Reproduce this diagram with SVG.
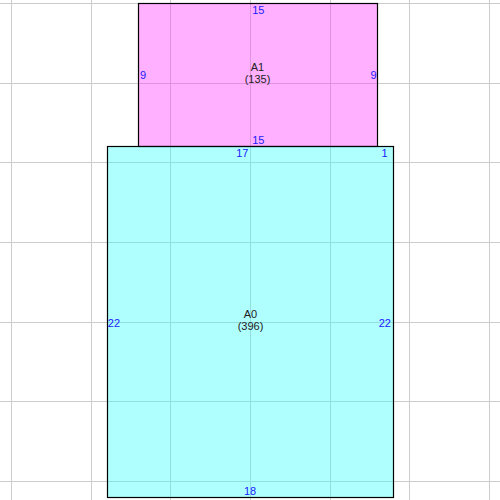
<svg xmlns="http://www.w3.org/2000/svg" width="500" height="500" viewBox="0 0 500 500">
<style>
.g{stroke:#cccccc;stroke-width:1;fill:none}
.r{stroke:#000;stroke-width:1.2;fill-opacity:0.4}
.e{font-family:"Liberation Sans",Arial,sans-serif;font-size:11px;fill:#1a1aff}
.n{font-family:"Liberation Sans",Arial,sans-serif;font-size:11px;fill:#222;text-anchor:middle}
</style>
<rect width="500" height="500" fill="#fff"/>
<g id="grid" class="g">
<path d="M11.5 0V500M91.5 0V500M170.5 0V500M250.5 0V500M330.5 0V500M409.5 0V500M489.5 0V500"/>
<path d="M0 3.5H500M0 83.5H500M0 162.5H500M0 242.5H500M0 322.5H500M0 401.5H500M0 481.5H500"/>
</g>
<g id="A1">
<rect class="r" x="138.5" y="3.5" width="239" height="143" fill="#ff3aff"/>
<text class="n" x="257.5" y="71">A1</text>
<text class="n" x="257.5" y="83">(135)</text>
<text class="e" x="258.3" y="14" text-anchor="middle">15</text>
<text class="e" x="258.3" y="143.5" text-anchor="middle">15</text>
<text class="e" x="140" y="79">9</text>
<text class="e" x="376.5" y="79" text-anchor="end">9</text>
</g>
<g id="A0">
<rect class="r" x="107.5" y="146.5" width="286" height="351" fill="#3affff"/>
<text class="n" x="250.5" y="317.5">A0</text>
<text class="n" x="250.5" y="329.5">(396)</text>
<text class="e" x="248.5" y="156.5" text-anchor="end">17</text>
<text class="e" x="387.5" y="156.5" text-anchor="end">1</text>
<text class="e" x="250" y="495" text-anchor="middle">18</text>
<text class="e" x="107.8" y="326.5">22</text>
<text class="e" x="391" y="326.5" text-anchor="end">22</text>
</g>
</svg>
